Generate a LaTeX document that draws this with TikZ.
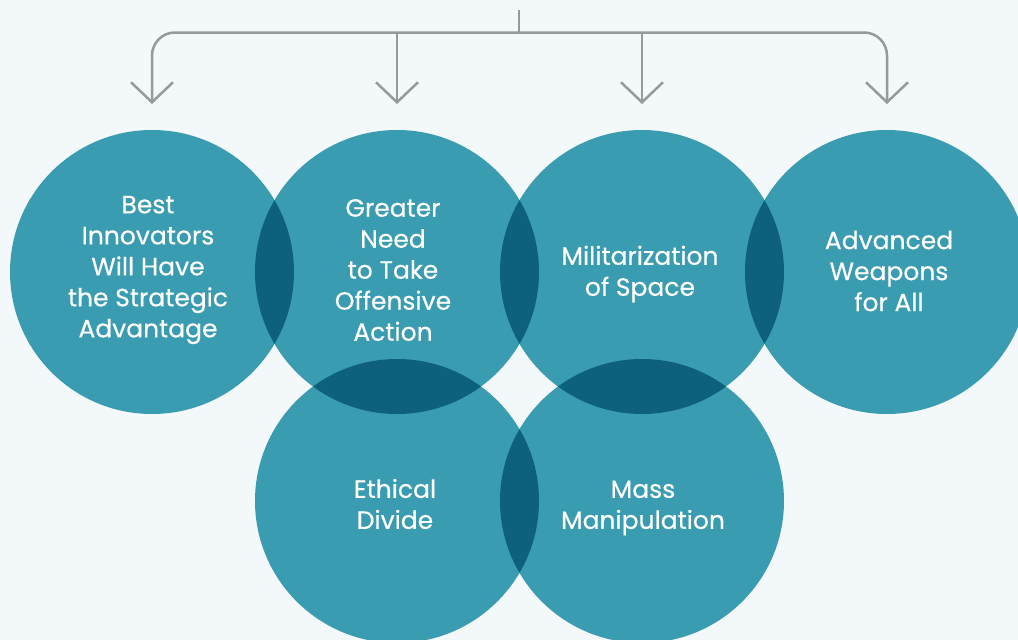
\documentclass[tikz,border=0pt]{standalone}
\usepackage{fontspec}
\setmainfont{Poppins}[FakeBold=0.4,UprightFont=*,BoldFont=*]
\usetikzlibrary{arrows.meta}
\definecolor{bgc}{HTML}{F3F8FB}
\definecolor{teal}{HTML}{3A9CB1}
\definecolor{deep}{HTML}{0E617B}
\definecolor{linec}{HTML}{97999B}
\tikzset{
  bubble/.style={circle, fill=teal, minimum size=284pt, inner sep=0pt},
  label/.style={text=white, align=center, font=\fontsize{25}{31}\selectfont\bfseries},
  bracket/.style={draw=linec, line width=2.5pt},
  drop/.style={bracket, -{Straight Barb[length=20pt, width=42pt, line width=2.5pt]}},
}
\newcommand{\lensfill}[2]{%
  \begin{scope}\clip (#1.center) circle (142pt);
  \fill[deep] (#2.center) circle (142pt);\end{scope}}
\begin{document}
\begin{tikzpicture}[x=1pt,y=-1pt]
\fill[bgc] (0,0) rectangle (1018,640);
\useasboundingbox (0,0) rectangle (1018,640);
% circles
\node[bubble] (c1) at (152,272) {};
\node[bubble] (c2) at (397,272) {};
\node[bubble] (c3) at (642,272) {};
\node[bubble] (c4) at (887,272) {};
\node[bubble] (c5) at (397,501) {};
\node[bubble] (c6) at (642,501) {};
% overlaps
\lensfill{c1}{c2}
\lensfill{c2}{c3}
\lensfill{c3}{c4}
\lensfill{c2}{c5}
\lensfill{c3}{c6}
\lensfill{c5}{c6}
% labels
\node[label] (l1) at (148,270) {Best\\Innovators\\Will Have\\the Strategic\\Advantage};
\node[label] (l2) at (393,270) {Greater\\Need\\to Take\\Offensive\\Action};
\node[label] (l3) at (640,274) {Militarization\\of Space};
\node[label] (l4) at (889,271) {Advanced\\Weapons\\for All};
\node[label] (l5) at (395,504) {Ethical\\Divide};
\node[label] (l6) at (643,508) {Mass\\Manipulation};
% bracket
\coordinate (top) at (519,10);
\coordinate (hub) at (519,32.5);
\coordinate (j2) at (397,32.5);
\coordinate (j3) at (642,32.5);
\coordinate (t1) at (152,104);
\coordinate (t2) at (397,104);
\coordinate (t3) at (642,104);
\coordinate (t4) at (887,104);
\draw[bracket] (top) -- (hub);
\draw[drop, rounded corners=23pt] (hub) -| (t1);
\draw[drop, rounded corners=23pt] (hub) -| (t4);
\draw[drop] (j2) -- (t2);
\draw[drop] (j3) -- (t3);
\end{tikzpicture}
\end{document}
